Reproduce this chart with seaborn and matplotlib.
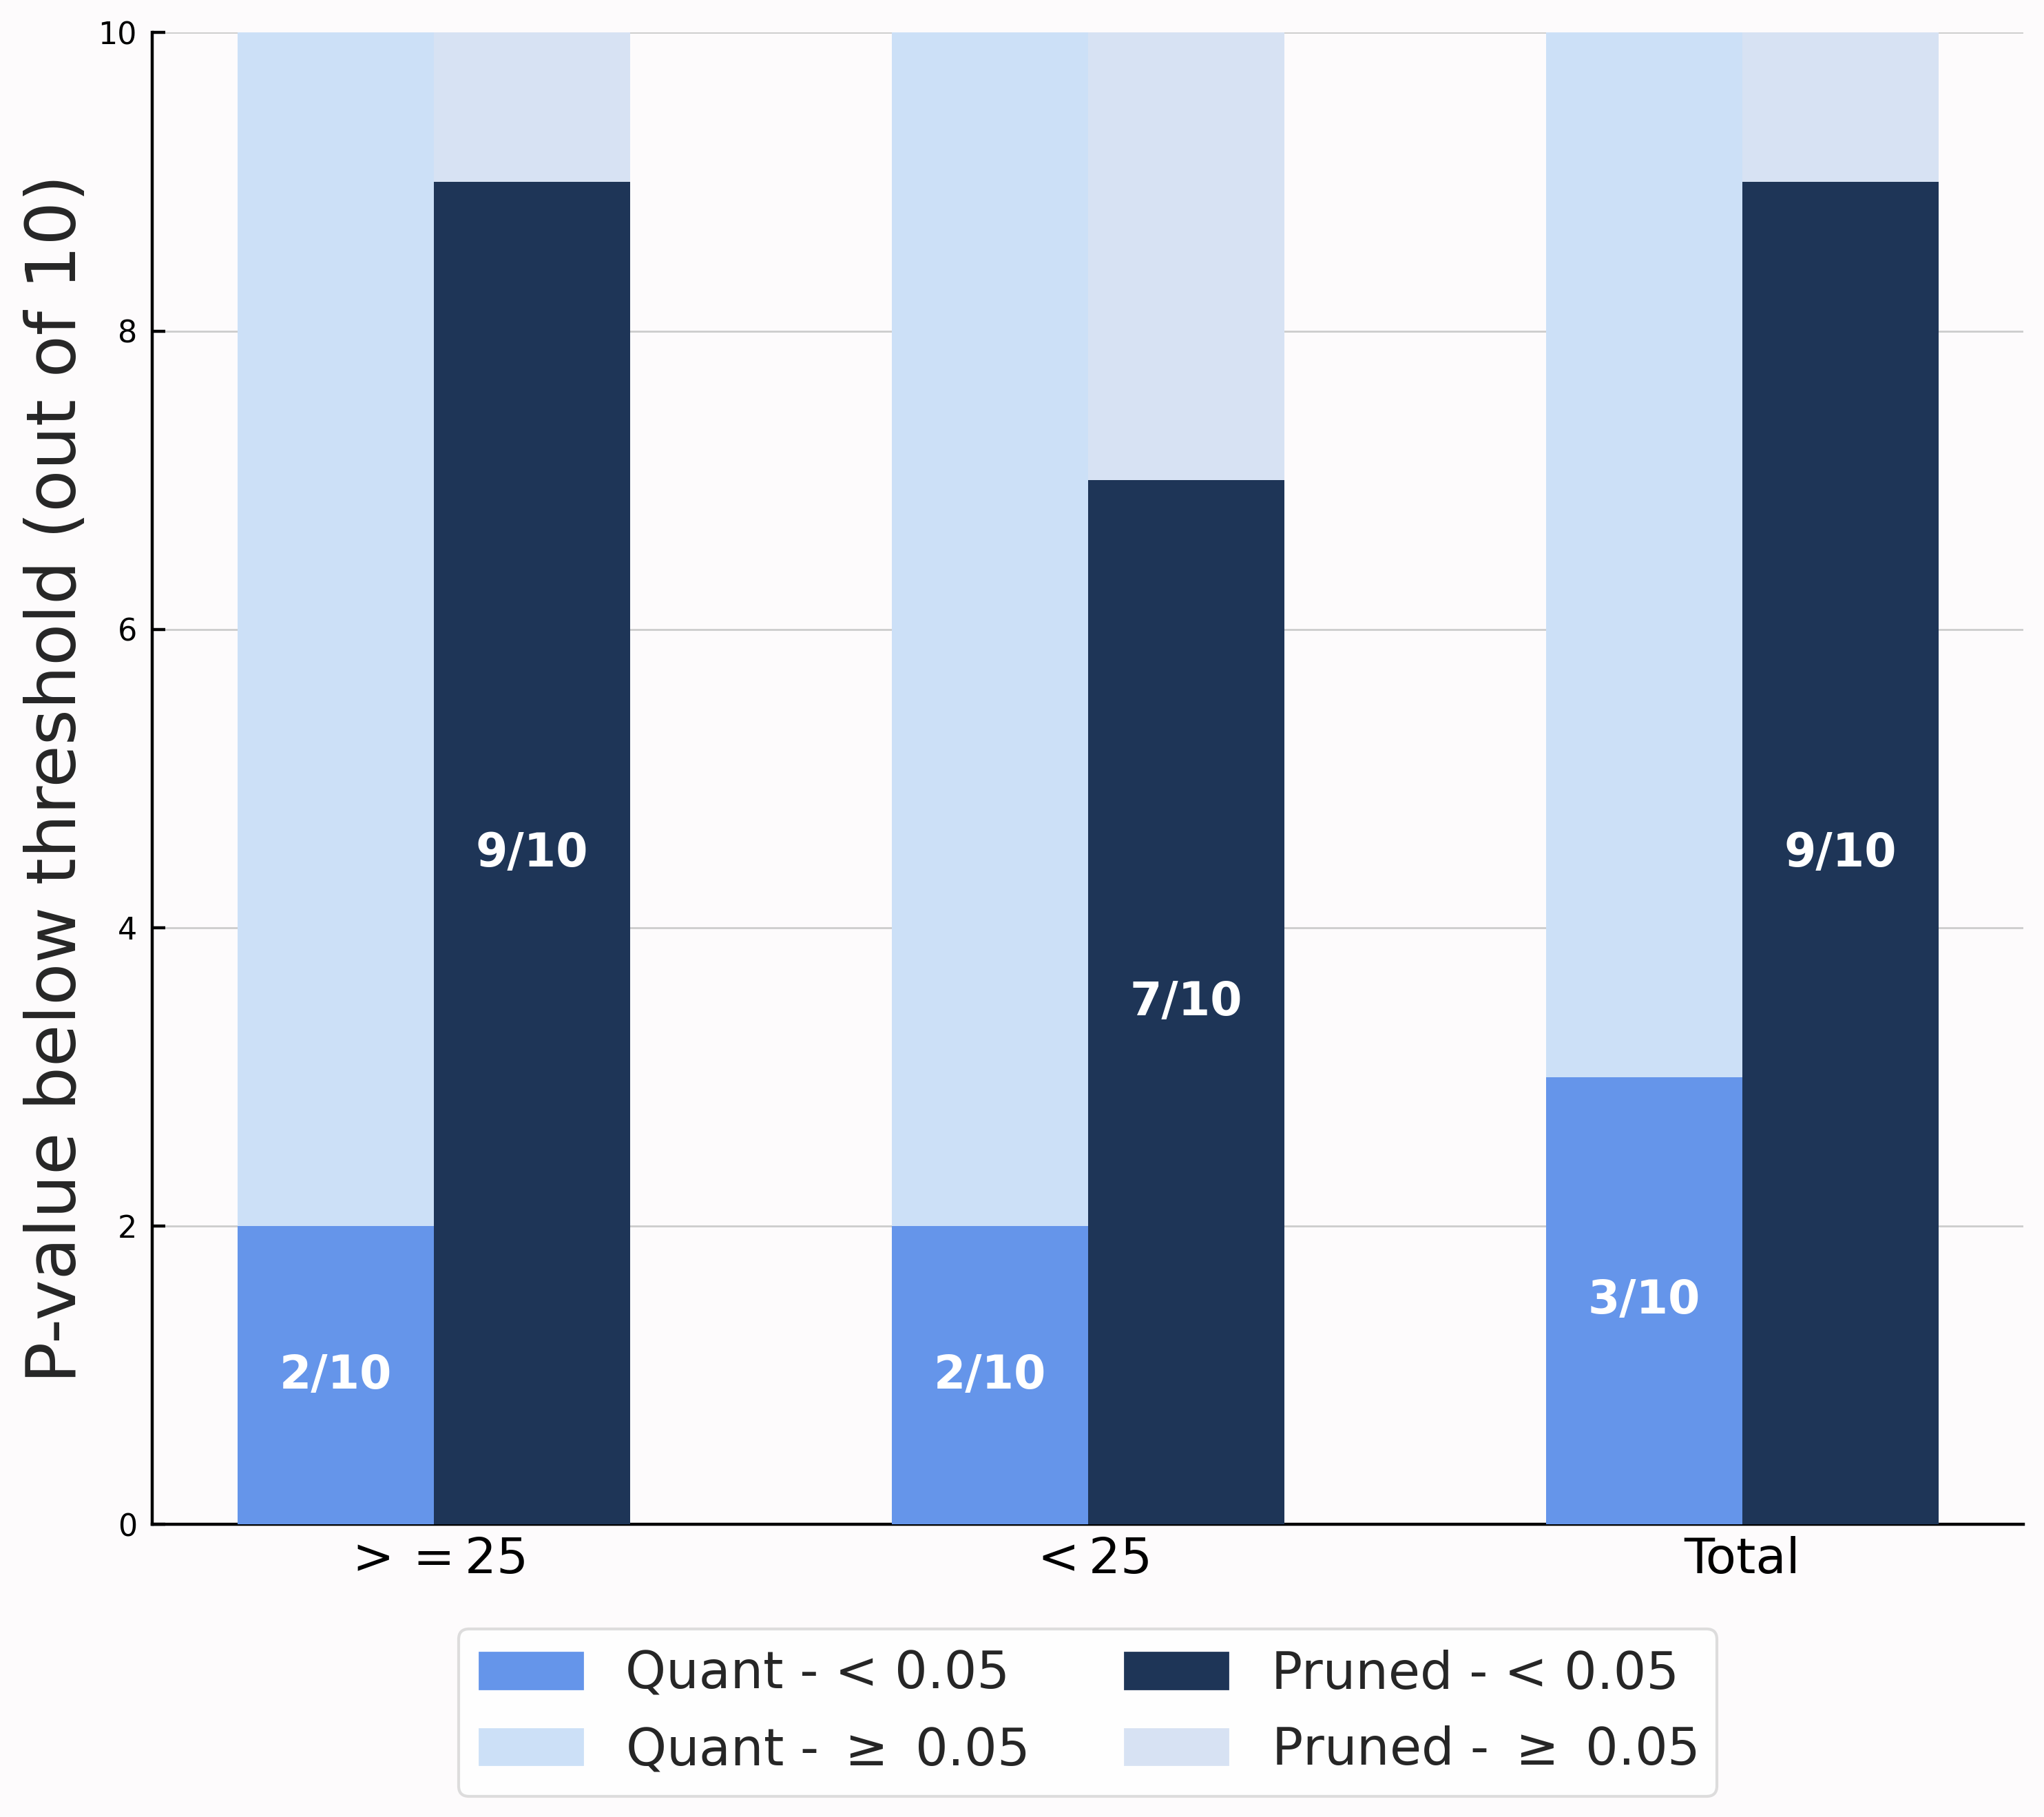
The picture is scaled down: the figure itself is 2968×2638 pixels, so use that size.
import matplotlib
matplotlib.use('Agg')
import matplotlib.pyplot as plt
import matplotlib.patches as mpatches
import pandas as pd
import seaborn as sns

# data
groups = ['$>=25$', '$<25$', 'Total']
models = ['Quant', 'Pruned']
quant_below = [2, 2, 3]
pruned_below = [9, 7, 9]
out_of = [10, 10, 10]

dark_colors = ['#6595ea', '#1e3557']
light_colors = ['#cce0f7', '#d7e2f3']
BG = '#fdfbfc'

sns.set_theme(style='ticks')
plt.rcParams['font.family'] = ['DejaVu Sans']
plt.rcParams['mathtext.fontset'] = 'dejavusans'

df_below = pd.DataFrame({
    'group': groups * 2,
    'model': ['Quant'] * 3 + ['Pruned'] * 3,
    'value': quant_below + pruned_below,
})
df_total = pd.DataFrame({
    'group': groups * 2,
    'model': ['Quant'] * 3 + ['Pruned'] * 3,
    'value': out_of + out_of,
})

fig, ax = plt.subplots(figsize=(14.84, 13.19), dpi=200)
fig.patch.set_facecolor(BG)
ax.set_facecolor(BG)

# full-height light bars first, then the "< 0.05" counts on top
sns.barplot(data=df_total, x='group', y='value', hue='model', hue_order=models,
            palette=light_colors, width=0.6, gap=0, saturation=1,
            linewidth=0, edgecolor='none', legend=False, ax=ax, zorder=2)
sns.barplot(data=df_below, x='group', y='value', hue='model', hue_order=models,
            palette=dark_colors, width=0.6, gap=0, saturation=1,
            linewidth=0, edgecolor='none', legend=False, ax=ax, zorder=3)

# labels centred in the dark bars
dark_bars = ax.containers[2:]
for cont, vals in zip(dark_bars, [quant_below, pruned_below]):
    labels = [f'{v}/10' for v in vals]
    ax.bar_label(cont, labels=labels, label_type='center', color='white',
                 fontsize=24, fontweight='bold', zorder=5)

ax.set_xlim(-0.43, 2.43)
ax.set_ylim(0, 10)
ax.set_yticks([0, 2, 4, 6, 8, 10])
ax.yaxis.grid(True, color='#cccccc', linewidth=1.0, zorder=0)
ax.set_axisbelow(True)

ax.set_xlabel('')
ax.set_ylabel('P-value below threshold (out of 10)', fontsize=36,
              color='#262626', labelpad=4)
ax.tick_params(axis='y', direction='in', length=7, width=1.6,
               labelsize=16, colors='black', pad=8)
ax.tick_params(axis='x', length=0, labelsize=26, colors='black', pad=6)

sns.despine(ax=ax)
for side in ['left', 'bottom']:
    ax.spines[side].set_linewidth(1.6)
    ax.spines[side].set_color('black')

handles = [
    mpatches.Patch(color=dark_colors[0], label='Quant - < 0.05'),
    mpatches.Patch(color=light_colors[0], label='Quant - $\\geq$ 0.05'),
    mpatches.Patch(color=dark_colors[1], label='Pruned - < 0.05'),
    mpatches.Patch(color=light_colors[1], label='Pruned - $\\geq$ 0.05'),
]
leg = ax.legend(handles=handles, ncol=2, loc='upper center',
                bbox_to_anchor=(0.5, -0.07), borderaxespad=0, fontsize=27,
                frameon=True, handlelength=2.0, handleheight=0.7,
                columnspacing=1.9, labelspacing=0.5, borderpad=0.4,
                handletextpad=0.83)
leg.get_frame().set_edgecolor('#d5d5d5')
leg.get_frame().set_linewidth(1.5)
leg.get_frame().set_facecolor('white')
for t in leg.get_texts():
    t.set_color('#262626')

fig.subplots_adjust(left=0.0745, right=0.99, top=0.982, bottom=0.161)
fig.savefig('out.png', dpi=200, facecolor=BG)
